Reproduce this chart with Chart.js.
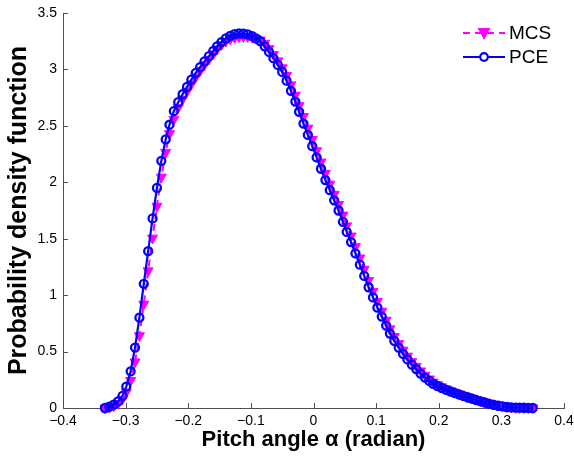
<!DOCTYPE html>
<html>
<head>
<meta charset="utf-8">
<title>Pitch angle PDF</title>
<script src="https://cdn.jsdelivr.net/npm/chart.js@4/dist/chart.umd.min.js"></script>
<style>
  html, body { margin: 0; padding: 0; background: #fff; }
  #wrap { width: 574px; height: 459px; position: relative; }
</style>
</head>
<body>
<div id="wrap"><canvas id="pdfChart"></canvas></div>
<script>
// Pitch angle grid (radian) shared by both estimates
const alpha = [
  -0.333, -0.326, -0.319, -0.312, -0.305, -0.299, -0.292, -0.285, -0.278, -0.271,
  -0.264, -0.257, -0.250, -0.243, -0.236, -0.230, -0.223, -0.216, -0.209, -0.202,
  -0.195, -0.188, -0.181, -0.174, -0.167, -0.160, -0.154, -0.147, -0.140, -0.133,
  -0.126, -0.119, -0.112, -0.105, -0.098, -0.092, -0.085, -0.078, -0.071, -0.064,
  -0.057, -0.050, -0.043, -0.036, -0.029, -0.023, -0.016, -0.009, -0.002, 0.005,
  0.012, 0.019, 0.026, 0.033, 0.040, 0.047, 0.053, 0.060, 0.067, 0.074,
  0.081, 0.088, 0.095, 0.102, 0.109, 0.116, 0.122, 0.129, 0.136, 0.143,
  0.150, 0.157, 0.164, 0.171, 0.178, 0.185, 0.191, 0.198, 0.205, 0.212,
  0.219, 0.226, 0.233, 0.240, 0.247, 0.254, 0.260, 0.267, 0.274, 0.281,
  0.288, 0.295, 0.302, 0.309, 0.316, 0.323, 0.329, 0.336, 0.343, 0.350
];

// Monte Carlo simulation density
const mcsPdf = [
  0.000, 0.005, 0.019, 0.041, 0.078, 0.141, 0.244, 0.409, 0.641, 0.920,
  1.216, 1.506, 1.788, 2.046, 2.266, 2.432, 2.558, 2.662, 2.738, 2.806,
  2.871, 2.934, 2.990, 3.041, 3.090, 3.137, 3.181, 3.220, 3.250, 3.270,
  3.284, 3.290, 3.292, 3.290, 3.285, 3.275, 3.260, 3.232, 3.185, 3.133,
  3.076, 3.015, 2.947, 2.864, 2.772, 2.679, 2.583, 2.480, 2.380, 2.280,
  2.180, 2.080, 1.984, 1.894, 1.804, 1.710, 1.614, 1.524, 1.430, 1.330,
  1.230, 1.130, 1.034, 0.944, 0.858, 0.778, 0.702, 0.634, 0.571, 0.513,
  0.460, 0.412, 0.369, 0.329, 0.291, 0.258, 0.230, 0.207, 0.188, 0.170,
  0.154, 0.140, 0.126, 0.113, 0.100, 0.088, 0.077, 0.065, 0.054, 0.043,
  0.033, 0.025, 0.018, 0.012, 0.008, 0.005, 0.004, 0.003, 0.002, 0.001
];

// Polynomial chaos expansion density
const pcePdf = [
  0.000, 0.012, 0.030, 0.058, 0.108, 0.190, 0.325, 0.535, 0.800, 1.100,
  1.390, 1.680, 1.950, 2.190, 2.380, 2.510, 2.630, 2.710, 2.780, 2.845,
  2.910, 2.970, 3.020, 3.072, 3.118, 3.165, 3.205, 3.242, 3.275, 3.298,
  3.313, 3.320, 3.318, 3.310, 3.295, 3.275, 3.250, 3.205, 3.155, 3.100,
  3.040, 2.978, 2.900, 2.810, 2.715, 2.625, 2.520, 2.420, 2.320, 2.220,
  2.120, 2.020, 1.930, 1.840, 1.750, 1.650, 1.560, 1.470, 1.370, 1.270,
  1.170, 1.070, 0.980, 0.890, 0.810, 0.730, 0.660, 0.595, 0.535, 0.480,
  0.430, 0.385, 0.345, 0.305, 0.270, 0.240, 0.215, 0.195, 0.177, 0.160,
  0.146, 0.132, 0.118, 0.105, 0.093, 0.081, 0.070, 0.058, 0.047, 0.037,
  0.028, 0.020, 0.014, 0.009, 0.006, 0.004, 0.003, 0.002, 0.001, 0.000
];

const seriesNames = ["MCS", "PCE"];
const xTitle = "Pitch angle \u03b1 (radian)";
const yTitle = "Probability density function";

const MAGENTA = "#ff00ff";
const BLUE = "#0000ff";
const AXIS = "#505050";
const FONT = "'Liberation Sans', Arial, Helvetica, sans-serif";

const pts = ys => alpha.map((a, i) => ({ x: a, y: ys[i] }));
const fmt = v => {
  const s = Math.abs(v) < 1e-9 ? "0" : String(Number(Math.abs(v).toFixed(1)));
  return v < -1e-9 ? "\u2212" + s : s;
};

/* ── inward tick marks (axes drawn MATLAB style) ── */
const innerTicks = {
  id: "innerTicks",
  afterDraw(chart) {
    const { ctx, chartArea: a, scales: { x, y } } = chart;
    ctx.save();
    ctx.strokeStyle = AXIS;
    ctx.lineWidth = 1;
    ctx.beginPath();
    x.ticks.forEach(t => {
      const px = Math.round(x.getPixelForValue(t.value)) + 0.5;
      ctx.moveTo(px, a.bottom);
      ctx.lineTo(px, a.bottom - 5);
    });
    y.ticks.forEach(t => {
      const py = Math.round(y.getPixelForValue(t.value)) + 0.5;
      ctx.moveTo(a.left, py);
      ctx.lineTo(a.left + 5, py);
    });
    ctx.stroke();
    ctx.restore();
  }
};

/* ── legend box, top right ── */
const cornerLegend = {
  id: "cornerLegend",
  afterDraw(chart) {
    const ctx = chart.ctx;
    ctx.save();
    // MCS entry
    ctx.strokeStyle = MAGENTA;
    ctx.lineWidth = 2;
    ctx.setLineDash([7, 5]);
    ctx.beginPath();
    ctx.moveTo(463, 33); ctx.lineTo(505, 33);
    ctx.stroke();
    ctx.setLineDash([]);
    ctx.fillStyle = MAGENTA;
    ctx.beginPath();
    ctx.moveTo(477.5, 28); ctx.lineTo(490.5, 28); ctx.lineTo(484, 40);
    ctx.closePath();
    ctx.fill();
    // PCE entry
    ctx.strokeStyle = BLUE;
    ctx.beginPath();
    ctx.moveTo(463, 57); ctx.lineTo(505, 57);
    ctx.stroke();
    ctx.lineWidth = 2.2;
    ctx.beginPath();
    ctx.arc(484, 57, 3.8, 0, Math.PI * 2);
    ctx.fillStyle = "#fff";
    ctx.fill();
    ctx.stroke();
    // labels
    ctx.fillStyle = "#000";
    ctx.font = "19px " + FONT;
    ctx.textBaseline = "middle";
    ctx.fillText(seriesNames[0], 509, 34);
    ctx.fillText(seriesNames[1], 509, 58);
    ctx.restore();
  }
};

new Chart(document.getElementById("pdfChart"), {
  type: "line",
  data: {
    datasets: [
      {
        label: seriesNames[0], data: pts(mcsPdf), order: 1, clip: false,
        borderColor: MAGENTA, borderWidth: 2, borderDash: [7, 5],
        pointStyle: "triangle", pointRotation: 180, pointRadius: 5.8,
        pointBackgroundColor: MAGENTA, pointBorderColor: MAGENTA, pointBorderWidth: 1,
        tension: 0, fill: false
      },
      {
        label: seriesNames[1], data: pts(pcePdf), order: 0, clip: false,
        borderColor: BLUE, borderWidth: 2.2,
        pointStyle: "circle", pointRadius: 4,
        pointBackgroundColor: "rgba(0,0,0,0)", pointBorderColor: BLUE, pointBorderWidth: 2.3,
        tension: 0, fill: false
      }
    ]
  },
  options: {
    responsive: true,
    maintainAspectRatio: false,
    animation: false,
    layout: { padding: { left: 0, top: 13, right: 10, bottom: 0 } },
    plugins: { legend: { display: false }, tooltip: { enabled: false } },
    scales: {
      x: {
        type: "linear", min: -0.4, max: 0.4,
        afterFit: s => { s.height = 51; s.paddingLeft = 0; s.paddingRight = 0; },
        ticks: { stepSize: 0.1, padding: 5, color: "#000", maxRotation: 0,
                 font: { family: FONT, size: 14 }, callback: v => fmt(v) },
        grid: { drawOnChartArea: false, drawTicks: false },
        border: { color: AXIS, width: 1 },
        title: { display: true, text: xTitle, color: "#000", padding: { top: 0, bottom: 6 },
                 font: { family: FONT, size: 22, weight: "bold" } }
      },
      y: {
        type: "linear", min: 0, max: 3.5,
        afterFit: s => { s.width = 63; s.paddingTop = 0; s.paddingBottom = 0; },
        ticks: { stepSize: 0.5, padding: 6, color: "#000",
                 font: { family: FONT, size: 14 }, callback: v => fmt(v) },
        grid: { drawOnChartArea: false, drawTicks: false },
        border: { color: AXIS, width: 1 },
        title: { display: true, text: yTitle, color: "#000", padding: { top: 4, bottom: 0 },
                 font: { family: FONT, size: 25, weight: "bold" } }
      }
    }
  },
  plugins: [innerTicks, cornerLegend]
});
</script>
</body>
</html>
